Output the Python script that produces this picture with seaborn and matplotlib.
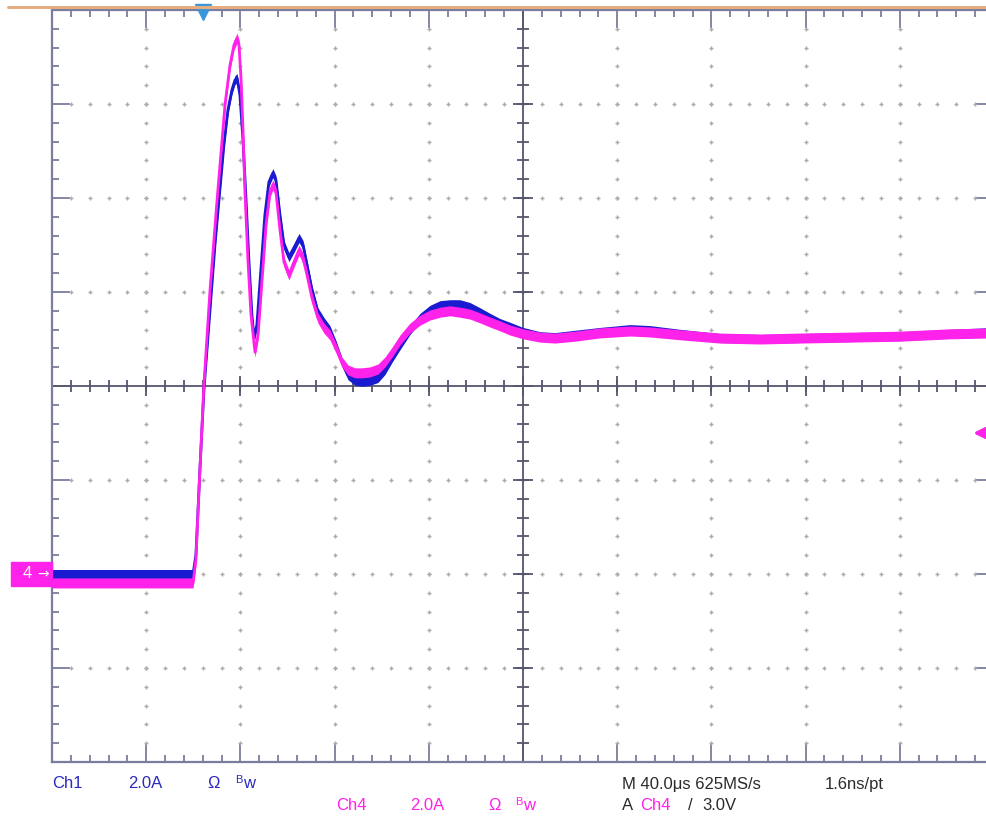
import numpy as np
import pandas as pd
import matplotlib
matplotlib.use("Agg")
import matplotlib.pyplot as plt
import seaborn as sns
from matplotlib.patches import Rectangle
from matplotlib.lines import Line2D

ch1_time_us = [0, 59.9, 61.1, 62.8, 64.5, 67.1, 69.2, 70.9, 73.0, 74.7, 76.4, 77.7, 78.6,
               79.8, 81.1, 82.4, 83.6, 84.9, 85.8, 87.0, 88.7, 90.4, 92.1, 93.8, 95.1, 96.8,
               98.5, 100.6, 102.8, 104.9, 106.6, 108.3, 110.4, 112.9, 115.5, 118.0, 120.6,
               123.1, 125.7, 128.7, 131.6, 135.0, 138.4, 141.4, 144.4, 147.8, 152.0, 156.3,
               160.5, 164.8, 169.0, 173.2, 177.5, 181.7, 186.0, 190.2, 194.5, 200.0, 207.2,
               213.6, 222.1, 232.7, 245.4, 253.9, 266.6, 283.6, 300.6, 317.6, 338.8, 360.1,
               381.3, 400.0]
ch1_current_a = [0.0, 0.0, 0.40, 2.21, 3.91, 5.62, 7.00, 7.96, 9.13, 9.87, 10.30, 10.51, 10.55,
                 10.19, 9.23, 7.96, 6.68, 5.51, 5.02, 5.30, 6.47, 7.64, 8.34, 8.53, 8.38, 7.64,
                 7.00, 6.74, 6.94, 7.15, 7.00, 6.57, 6.04, 5.57, 5.36, 5.19, 4.87, 4.51, 4.23,
                 4.11, 4.09, 4.11, 4.17, 4.34, 4.60, 4.87, 5.19, 5.45, 5.62, 5.72, 5.74, 5.74,
                 5.68, 5.57, 5.45, 5.34, 5.26, 5.15, 5.06, 5.04, 5.09, 5.15, 5.21, 5.19, 5.11,
                 5.02, 5.00, 5.02, 5.04, 5.06, 5.11, 5.15]

ch4_time_us = [0, 59.9, 61.1, 62.8, 64.5, 67.1, 70.1, 73.5, 75.6, 77.3, 78.6, 79.4, 80.3,
               81.1, 81.9, 83.2, 84.5, 86.2, 87.5, 89.2, 90.9, 92.6, 93.8, 95.1, 96.8, 98.5,
               100.6, 102.8, 104.9, 106.6, 108.3, 110.4, 112.9, 115.5, 118.0, 120.6, 123.1,
               125.7, 128.7, 131.6, 135.0, 138.4, 141.4, 144.4, 147.8, 152.0, 156.3, 160.5,
               164.8, 169.0, 173.2, 177.5, 181.7, 186.0, 190.2, 194.5, 200.0, 207.2, 213.6,
               222.1, 232.7, 245.4, 253.9, 266.6, 283.6, 300.6, 317.6, 338.8, 360.1, 381.3,
               400.0]
ch4_current_a = [-0.19, -0.19, 0.30, 2.21, 4.02, 6.04, 7.96, 10.00, 10.83, 11.26, 11.40, 11.26,
                 10.51, 9.45, 8.17, 6.68, 5.51, 4.72, 5.09, 6.26, 7.43, 8.13, 8.28, 8.13, 7.32,
                 6.64, 6.36, 6.64, 6.89, 6.72, 6.36, 5.87, 5.45, 5.23, 5.09, 4.81, 4.51, 4.34,
                 4.28, 4.28, 4.30, 4.36, 4.51, 4.72, 4.98, 5.23, 5.40, 5.51, 5.57, 5.60, 5.57,
                 5.53, 5.45, 5.36, 5.28, 5.19, 5.11, 5.04, 5.02, 5.06, 5.13, 5.17, 5.15, 5.09,
                 5.02, 5.00, 5.02, 5.04, 5.06, 5.11, 5.13]

x_divisions_us = [0, 40, 80, 120, 160, 200, 240, 280, 320, 360, 400]
y_divisions_a = [-4, -2, 0, 2, 4, 6, 8, 10, 12]
trigger_time_us = 64
trigger_level_a = 3.0
ch4_ground_a = 0.0

# ---------------- style ----------------
sns.set_theme(style="white")
plt.rcParams['font.family'] = ['Liberation Sans', 'DejaVu Sans']

W, H = 987, 819
PT = 0.72  # points per pixel at dpi 100
BLUE = '#1a1ad0'
PINK = '#ff22ea'
BORDER = '#7a7e9c'
CENTER = '#56566c'
DOT = '#aaaaaa'

fig = plt.figure(figsize=(W / 100, H / 100), dpi=100)
fig.patch.set_facecolor('white')
ax = fig.add_axes([52 / W, 1 - 762 / H, 942 / W, 752 / H])
ax.set_facecolor('white')
ax.set_xlim(x_divisions_us[0], x_divisions_us[-1])
ax.set_ylim(y_divisions_a[0], y_divisions_a[-1])

xdiv = x_divisions_us[1] - x_divisions_us[0]
ydiv = y_divisions_a[1] - y_divisions_a[0]
x_minor = np.arange(x_divisions_us[0], x_divisions_us[-1] + 1e-9, xdiv / 5)
y_minor = np.arange(y_divisions_a[0], y_divisions_a[-1] + 1e-9, ydiv / 5)

ax.set_xticks(x_divisions_us)
ax.set_yticks(y_divisions_a)
ax.set_xticks(x_minor, minor=True)
ax.set_yticks(y_minor, minor=True)
ax.tick_params(which='major', direction='in', length=18 * PT, width=1.3, color=BORDER,
               top=True, right=True, bottom=True, left=True,
               labelbottom=False, labelleft=False)
ax.tick_params(which='minor', direction='in', length=7 * PT, width=1.3, color=BORDER,
               top=True, right=True, bottom=True, left=True)
for s in ax.spines.values():
    s.set_color(BORDER)
    s.set_linewidth(1.6)

# graticule dots
xc = x_divisions_us[len(x_divisions_us) // 2]
yc = y_divisions_a[len(y_divisions_a) // 2]
inner_x = [v for v in x_divisions_us[1:-1] if v != xc]
inner_y = [v for v in y_divisions_a[1:-1] if v != yc]
gx, gy = np.meshgrid(inner_x, y_minor[1:-1])
ax.scatter(gx.ravel(), gy.ravel(), marker='+', s=10, color=DOT, linewidths=1.0, zorder=1)
hx, hy = np.meshgrid(x_minor[1:-1], inner_y)
ax.scatter(hx.ravel(), hy.ravel(), marker='+', s=10, color=DOT, linewidths=1.0, zorder=1)

# centre crosshair with ticks
ax.axvline(xc, color=CENTER, lw=1.3, zorder=2)
ax.axhline(yc, color=CENTER, lw=1.3, zorder=2)
ax.plot(np.full(len(y_minor), xc), y_minor, ls='none', marker='_', ms=12 * PT, mew=1.3,
        color=CENTER, zorder=2)
ax.plot(np.full(len(y_divisions_a), xc), y_divisions_a, ls='none', marker='_', ms=20 * PT,
        mew=1.3, color=CENTER, zorder=2)
ax.plot(x_minor, np.full(len(x_minor), yc), ls='none', marker='|', ms=12 * PT, mew=1.3,
        color=CENTER, zorder=2)
ax.plot(x_divisions_us, np.full(len(x_divisions_us), yc), ls='none', marker='|', ms=20 * PT,
        mew=1.3, color=CENTER, zorder=2)

# traces
df1 = pd.DataFrame({'t': ch1_time_us, 'i': ch1_current_a})
df4 = pd.DataFrame({'t': ch4_time_us, 'i': ch4_current_a})
band1 = 4.5 / 47.0
band4 = 5.0 / 47.0
ax.fill_between(df1['t'], df1['i'] - band1, df1['i'] + band1, color=BLUE, lw=0, zorder=3)
sns.lineplot(data=df1, x='t', y='i', ax=ax, color=BLUE, lw=2.8 * PT, zorder=3, sort=False)
ax.fill_between(df4['t'], df4['i'] - band4, df4['i'] + band4, color=PINK, lw=0, zorder=4)
sns.lineplot(data=df4, x='t', y='i', ax=ax, color=PINK, lw=2.8 * PT, zorder=4, sort=False)
ax.set_xlabel('')
ax.set_ylabel('')

# trigger position marker (top) and trigger level arrow (right)
ax.plot([trigger_time_us], [y_divisions_a[-1] - 0.04], marker='v', ms=11, color='#3a96d8',
        clip_on=False, zorder=6)
ax.annotate('', xy=(x_divisions_us[-1] - 10, trigger_level_a),
            xytext=(x_divisions_us[-1] + 2, trigger_level_a),
            arrowprops=dict(arrowstyle='-|>', color=PINK, lw=2.4, mutation_scale=16),
            annotation_clip=False, zorder=6)

# top orange bar
fig.add_artist(Line2D([8 / W, 1.0], [1 - 7 / H, 1 - 7 / H], color='#e6ad80', lw=3 * PT))

# channel 4 ground marker on the left
gy_px = ax.transData.transform((0, ch4_ground_a))[1]
fig.patches.append(Rectangle((11 / W, (gy_px - 12) / H), 41 / W, 24 / H,
                             transform=fig.transFigure, color=PINK, zorder=5))
fig.text(27 / W, gy_px / H, '4', color='white', fontsize=12, ha='center', va='center',
         zorder=10)
fig.text(43 / W, gy_px / H, '→', color='white', fontsize=10, ha='center', va='center',
         family=['DejaVu Sans'], zorder=10)

# bottom readouts
def t(xpx, ypx, s, color, size=12):
    fig.text(xpx / W, 1 - ypx / H, s, color=color, fontsize=size, ha='left', va='center')

TXT_BLUE = '#2a2ac0'
TXT_DARK = '#2a2a2a'
t(52, 784, 'Ch1', TXT_BLUE)
t(128, 784, '2.0A', TXT_BLUE)
t(207, 784, 'Ω', TXT_BLUE)
t(235, 780, 'B', TXT_BLUE, 8)
t(243, 784, 'w', TXT_BLUE)
t(336, 806, 'Ch4', PINK)
t(410, 806, '2.0A', PINK)
t(488, 806, 'Ω', PINK)
t(515, 802, 'B', PINK, 8)
t(523, 806, 'w', PINK)
t(622, 784, 'M 40.0μs 625MS/s', TXT_DARK)
t(825, 784, '1.6ns/pt', TXT_DARK)
t(622, 806, 'A', TXT_DARK)
t(640, 806, 'Ch4', PINK)
t(688, 806, '/', TXT_DARK)
t(702, 806, '3.0V', TXT_DARK)

fig.savefig('out.png', dpi=100, facecolor='white')
